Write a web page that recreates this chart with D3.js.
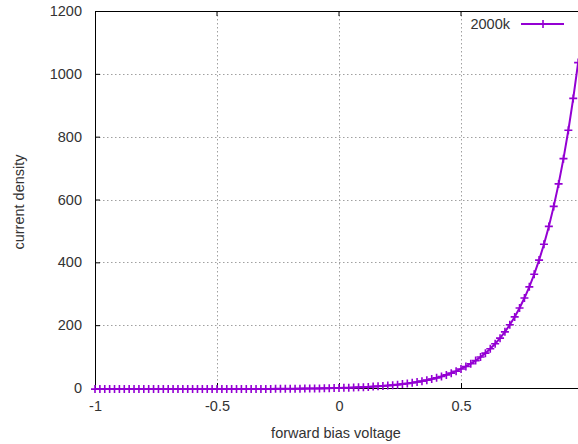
<!DOCTYPE html>
<html>
<head>
<meta charset="utf-8">
<script src="https://cdn.jsdelivr.net/npm/d3@7"></script>
<style>
  body { margin: 0; background: #fff; }
  text { font-family: "Liberation Sans", Arial, sans-serif; fill: #333; }
</style>
</head>
<body>
<script>
var w = 578;
var h = 444;

// values, one series "2000k"
var voltage = [
  -1.00, -0.98, -0.96, -0.94, -0.92, -0.90, -0.88, -0.86, -0.84, -0.82,
  -0.80, -0.78, -0.76, -0.74, -0.72, -0.70, -0.68, -0.66, -0.64, -0.62,
  -0.60, -0.58, -0.56, -0.54, -0.52, -0.50, -0.48, -0.46, -0.44, -0.42,
  -0.40, -0.38, -0.36, -0.34, -0.32, -0.30, -0.28, -0.26, -0.24, -0.22,
  -0.20, -0.18, -0.16, -0.14, -0.12, -0.10, -0.08, -0.06, -0.04, -0.02,
   0.00,  0.02,  0.04,  0.06,  0.08,  0.10,  0.12,  0.14,  0.16,  0.18,
   0.20,  0.22,  0.24,  0.26,  0.28,  0.30,  0.32,  0.34,  0.36,  0.38,
   0.40,  0.42,  0.44,  0.46,  0.48,  0.50,  0.52,  0.54,  0.56,  0.58,
   0.60,  0.62,  0.64,  0.66,  0.68,  0.70,  0.72,  0.74,  0.76,  0.78,
   0.80,  0.82,  0.84,  0.86,  0.88,  0.90,  0.92,  0.94,  0.96,  0.98
];

var current = [
  -3.51, -3.51, -3.51, -3.51, -3.51, -3.50, -3.50, -3.50, -3.49, -3.49,
  -3.49, -3.48, -3.48, -3.47, -3.47, -3.46, -3.45, -3.44, -3.43, -3.42,
  -3.41, -3.40, -3.38, -3.37, -3.35, -3.33, -3.30, -3.28, -3.25, -3.21,
  -3.17, -3.13, -3.08, -3.03, -2.97, -2.90, -2.83, -2.74, -2.65, -2.54,
  -2.42, -2.28, -2.13, -1.96, -1.77, -1.55, -1.31, -1.04, -0.73, -0.39,
   0.00,  0.43,  0.92,  1.46,  2.08,  2.77,  3.54,  4.41,  5.39,  6.49,
   7.72,  9.10, 10.65, 12.40, 14.36, 16.56, 19.03, 21.80, 24.92, 28.42,
  32.35, 36.77, 41.73, 47.30, 53.55, 60.58, 68.47, 77.32, 87.28, 98.45,
  111.0, 125.1, 141.0, 158.7, 178.7, 201.1, 226.3, 254.6, 286.3, 322.0,
  362.1, 407.1, 457.6, 514.4, 578.1, 649.7, 730.1, 820.4, 921.8, 1035.7
];

var xTicks = [-1, -0.5, 0, 0.5];
var yTicks = [0, 200, 400, 600, 800, 1000, 1200];
var seriesName = "2000k";

// plot box (right edge runs past the picture, as in the original crop)
var mLeft = 95, mRight = 583, mTop = 11, mBottom = 388;
var lineColor = "#9400d3";
var fontSize = "14.5px";

var x = d3.scaleLinear().domain([-1, 1]).range([mLeft, mRight]);
var y = d3.scaleLinear().domain([0, 1200]).range([mBottom, mTop]);

var svg = d3.select("body").append("svg").attr("width", w).attr("height", h);

svg.append("defs").append("clipPath").attr("id", "plotclip")
  .append("rect")
  .attr("x", mLeft - 6).attr("y", mTop)
  .attr("width", mRight - mLeft + 12).attr("height", mBottom - mTop + 6);

// grid
var grid = svg.append("g").attr("class", "grid")
  .attr("stroke", "#a0a0a0").attr("stroke-width", 1).attr("stroke-dasharray", "1.5,2.5");

grid.selectAll(".gx")
  .data(xTicks.filter(function(d) { return d > -1; }))
  .enter().append("line")
  .attr("x1", function(d) { return Math.round(x(d)) + 0.5; })
  .attr("x2", function(d) { return Math.round(x(d)) + 0.5; })
  .attr("y1", mTop).attr("y2", mBottom);

grid.selectAll(".gy")
  .data(yTicks.filter(function(d) { return d > 0 && d < 1200; }))
  .enter().append("line")
  .attr("y1", function(d) { return Math.round(y(d)) + 0.5; })
  .attr("y2", function(d) { return Math.round(y(d)) + 0.5; })
  .attr("x1", mLeft).attr("x2", mRight);

// axes
var xAxis = svg.append("g")
  .attr("transform", "translate(0," + mBottom + ")")
  .call(d3.axisBottom(x).tickValues(xTicks).tickSizeInner(-5).tickSizeOuter(0).tickPadding(13)
    .tickFormat(function(d) { return String(d); }));

var yAxis = svg.append("g")
  .attr("transform", "translate(" + mLeft + ",0)")
  .call(d3.axisLeft(y).tickValues(yTicks).tickSizeInner(-5).tickSizeOuter(0).tickPadding(13)
    .tickFormat(function(d) { return String(d); }));

[xAxis, yAxis].forEach(function(a) {
  a.selectAll("text").style("font-size", fontSize).attr("fill", "#333")
    .style("font-family", '"Liberation Sans", Arial, sans-serif');
  a.selectAll("line").attr("stroke", "#000");
  a.select(".domain").attr("stroke", "#000");
});

// mirror ticks on top
svg.append("g").selectAll("line")
  .data(xTicks.filter(function(d) { return d > -1; }))
  .enter().append("line")
  .attr("x1", function(d) { return x(d); })
  .attr("x2", function(d) { return x(d); })
  .attr("y1", mTop).attr("y2", mTop + 5)
  .attr("stroke", "#000");

// top border
svg.append("line")
  .attr("x1", mLeft).attr("x2", mRight)
  .attr("y1", mTop + 0.5).attr("y2", mTop + 0.5)
  .attr("stroke", "#000");

// the series
var pts = voltage.map(function(v, i) { return [v, current[i]]; });
var plot = svg.append("g").attr("clip-path", "url(#plotclip)");

plot.append("path")
  .datum(pts)
  .attr("fill", "none")
  .attr("stroke", lineColor)
  .attr("stroke-width", 2)
  .attr("d", d3.line()
    .x(function(d) { return x(d[0]); })
    .y(function(d) { return y(d[1]); }));

var plus = "M-4,0H4M0,-4V4";
plot.selectAll(".pt")
  .data(pts)
  .enter().append("path")
  .attr("class", "pt")
  .attr("d", plus)
  .attr("transform", function(d) { return "translate(" + x(d[0]) + "," + y(d[1]) + ")"; })
  .attr("stroke", lineColor)
  .attr("stroke-width", 1.6)
  .attr("fill", "none");

// legend
var key = svg.append("g");
key.append("text")
  .attr("x", 510).attr("y", 29)
  .attr("text-anchor", "end")
  .style("font-size", fontSize)
  .text(seriesName);
key.append("line")
  .attr("x1", 521).attr("x2", 564)
  .attr("y1", 24).attr("y2", 24)
  .attr("stroke", lineColor).attr("stroke-width", 2);
key.append("path")
  .attr("d", plus)
  .attr("transform", "translate(543,24)")
  .attr("stroke", lineColor).attr("stroke-width", 1.6).attr("fill", "none");

// axis titles
svg.append("text")
  .attr("transform", "translate(24,202) rotate(-90)")
  .attr("text-anchor", "middle")
  .style("font-size", fontSize)
  .text("current density");

svg.append("text")
  .attr("x", 336).attr("y", 438)
  .attr("text-anchor", "middle")
  .style("font-size", fontSize)
  .text("forward bias voltage");
</script>
</body>
</html>
